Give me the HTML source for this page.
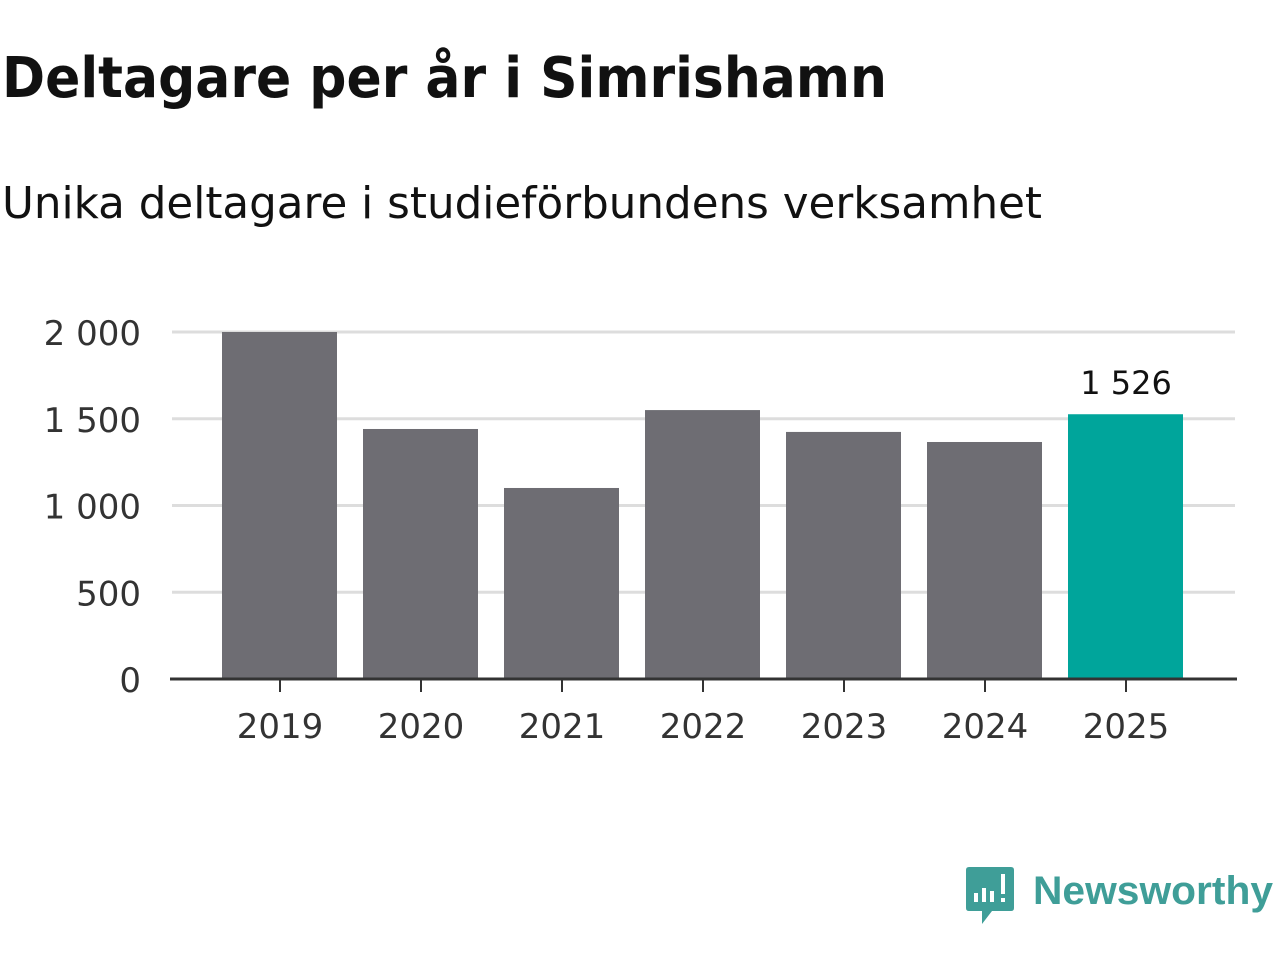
<!DOCTYPE html>
<html><head><meta charset="utf-8"><style>
body{margin:0;width:1280px;height:960px;background:#fff;font-family:"DejaVu Sans","Liberation Sans",sans-serif;overflow:hidden}
svg{position:absolute;left:0;top:0}
</style></head><body>
<svg width="1280" height="960">
<text x="2" y="97" font-size="56" font-weight="bold" fill="#111" textLength="885" lengthAdjust="spacingAndGlyphs">Deltagare per år i Simrishamn</text>
<text x="2" y="218" font-size="44" fill="#111" textLength="1040" lengthAdjust="spacingAndGlyphs">Unika deltagare i studieförbundens verksamhet</text>
<g id="grid"></g><g id="bars"></g><g id="xaxis"></g>
<g>
<path d="M969 867 h42 q3 0 3 3 v38 q0 3 -3 3 h-19 l-10 13 v-13 h-13 q-3 0 -3 -3 v-38 q0 -3 3 -3 z" fill="#3f9e98"/>
<rect x="974" y="893" width="4" height="9" fill="#fff"/><rect x="982" y="888" width="4" height="14" fill="#fff"/><rect x="990" y="891" width="4" height="11" fill="#fff"/><rect x="1001" y="874" width="4" height="20" fill="#fff"/><rect x="1001" y="898" width="4" height="4" fill="#fff"/>
<text x="1033" y="904" font-size="40" font-weight="bold" fill="#3f9e98" font-family="Liberation Sans, sans-serif" textLength="240" lengthAdjust="spacingAndGlyphs">Newsworthy</text>
</g>
</svg>
<script>
const categories=["2019","2020","2021","2022","2023","2024","2025"];
const values=[2000,1441,1101,1550,1424,1366,1526];
const yTicks=[0,500,1000,1500,2000];
const yTickLabels=["0","500","1 000","1 500","2 000"];
const highlightLabel="1 526";
const ns="http://www.w3.org/2000/svg";
const y=v=>679-v*0.1735;
const x=i=>280+i*141;
function mk(t,a,p){const e=document.createElementNS(ns,t);for(const k in a)e.setAttribute(k,a[k]);document.getElementById(p).appendChild(e);return e;}
yTicks.forEach((t,i)=>{
 if(t>0){const l=mk('line',{x1:172,x2:1235,y1:y(t),y2:y(t),stroke:'#ddd','stroke-width':3},'grid');
 
 }
 const tx=mk('text',{x:141,y:y(t)+13,'text-anchor':'end','font-size':34,fill:'#333'},'grid');tx.textContent=yTickLabels[i];
 
 
});
values.forEach((v,i)=>{
 const last=i===values.length-1;
 const r=mk('rect',{x:x(i)-58,y:y(v),width:115,height:679-y(v),fill:last?'#00a59b':'#6e6d73'},'bars');
 
 
 const tk=mk('line',{x1:x(i),x2:x(i),y1:679,y2:692,stroke:'#333','stroke-width':2},'xaxis');
 
 
 const t=mk('text',{x:x(i),y:738,'text-anchor':'middle','font-size':34,fill:'#333'},'xaxis');t.textContent=categories[i];
 
 
 if(last){const lb=mk('text',{x:x(i),y:y(v)-20,'text-anchor':'middle','font-size':32,fill:'#111'},'bars');lb.textContent=highlightLabel;
 
 }
});
const ax=mk('line',{x1:170,x2:1237,y1:679,y2:679,stroke:'#333','stroke-width':3},'xaxis');


</script>
</body></html>
